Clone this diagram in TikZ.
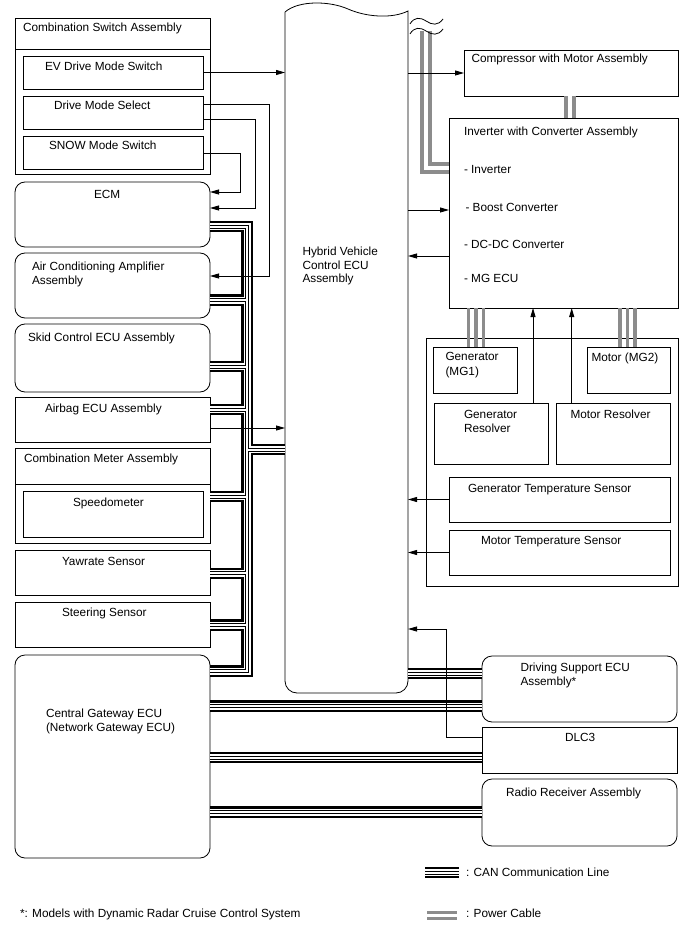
\documentclass[tikz,border=0pt]{standalone}
\usepackage{fontspec}
\setmainfont{Liberation Sans}
\usetikzlibrary{arrows.meta,calc}
\definecolor{pgray}{RGB}{140,140,140}
\begin{document}
\begin{tikzpicture}[x=1pt,y=-1pt,
  every node/.style={font=\fontsize{11.8pt}{14pt}\selectfont},
  box/.style={draw, line width=0.8pt, inner sep=0pt, outer sep=0pt, anchor=north west},
  rbox/.style={box, rounded corners=10pt},
  lbl/.style={anchor=base west, inner sep=0pt, outer sep=0pt},
  ln/.style={line width=0.8pt},
  arr/.style={line width=0.8pt, -{Triangle[length=9pt,width=5pt]}},
  can/.style={draw=black, line width=11.5pt,
    postaction={draw=white, line width=7pt,
      postaction={draw=black, line width=4pt,
        postaction={draw=white, line width=2pt}}}},
  pwr/.style={draw=pgray, line width=11.5pt, postaction={draw=white, line width=4.5pt}},
  pwrone/.style={draw=pgray, line width=3.3pt}]
\useasboundingbox (0,0) rectangle (688,949);

% ---------- left boxes ----------
\node[box, minimum width=195pt, minimum height=156pt] (csw) at (15,18) {};
\node[box, minimum width=180pt, minimum height=33pt] (ev) at (23,56) {};
\node[box, minimum width=180pt, minimum height=33pt] (dms) at (23,96) {};
\node[box, minimum width=180pt, minimum height=33pt] (snow) at (23,136) {};
\node[rbox, minimum width=195pt, minimum height=65pt] (ecm) at (15,182) {};
\node[rbox, minimum width=195pt, minimum height=65pt] (ac) at (15,253) {};
\node[rbox, minimum width=195pt, minimum height=68pt] (skid) at (15,324) {};
\node[box, minimum width=195pt, minimum height=45pt] (airbag) at (15,397) {};
\node[box, minimum width=195pt, minimum height=95pt] (meter) at (15,448) {};
\node[box, minimum width=180pt, minimum height=46pt] (speedo) at (23,491) {};
\node[box, minimum width=195pt, minimum height=45pt] (yaw) at (15,550) {};
\node[box, minimum width=195pt, minimum height=45pt] (steer) at (15,602) {};
\node[rbox, minimum width=195pt, minimum height=203pt] (gw) at (15,655) {};
\draw[ln] ([yshift=-31pt]csw.north west) -- ([yshift=-31pt]csw.north east);
\draw[ln] ([yshift=-36pt]meter.north west) -- ([yshift=-36pt]meter.north east);

% ---------- HV ECU ----------
\node[inner sep=0pt, outer sep=0pt, minimum width=123pt, minimum height=681pt, anchor=north west] (hv) at (285,12) {};
\draw[ln] (285,12) .. controls (299,0) and (330,1) .. (348,9) .. controls (366,17) and (392,19) .. (408,11)
  [rounded corners=12pt] -- (408,693) -- (285,693) -- (285,12);

% ---------- right boxes ----------
\node[box, minimum width=214pt, minimum height=46pt] (comp) at (464,50) {};
\node[box, minimum width=229pt, minimum height=190pt] (inv) at (449,118) {};
\node[box, minimum width=252pt, minimum height=248pt] (mg) at (426,338) {};
\node[box, minimum width=84pt, minimum height=46pt] (mg1) at (433,347) {};
\node[box, minimum width=83pt, minimum height=46pt] (mg2) at (587,347) {};
\node[box, minimum width=114pt, minimum height=61pt] (gres) at (434,403) {};
\node[box, minimum width=114pt, minimum height=61pt] (mres) at (556,403) {};
\node[box, minimum width=221pt, minimum height=45pt] (gtemp) at (449,477) {};
\node[box, minimum width=221pt, minimum height=45pt] (mtemp) at (449,530) {};
\node[rbox, minimum width=195pt, minimum height=66pt] (ds) at (482,656) {};
\node[box, minimum width=195pt, minimum height=46pt] (dlc) at (482,727) {};
\node[rbox, minimum width=195pt, minimum height=67pt] (radio) at (482,779) {};

% ---------- texts ----------
\node[lbl] (t1) at (23,32) {Combination Switch Assembly};
\node[lbl] (t2) at (45,70.5) {EV Drive Mode Switch};
\node[lbl] (t3) at (54,110) {Drive Mode Select};
\node[lbl] (t4) at (49,150) {SNOW Mode Switch};
\node[lbl] (t5) at (94,199) {ECM};
\node[lbl] (t6) at (32,270) {Air Conditioning Amplifier};
\node[lbl] (t6b) at (32,284) {Assembly};
\node[lbl] (t7) at (28,341.5) {Skid Control ECU Assembly};
\node[lbl] (t8) at (45,412.5) {Airbag ECU Assembly};
\node[lbl] (t9) at (24,462.5) {Combination Meter Assembly};
\node[lbl] (t10) at (73,506.5) {Speedometer};
\node[lbl] (t11) at (62,565.5) {Yawrate Sensor};
\node[lbl] (t12) at (62,616.5) {Steering Sensor};
\node[lbl] (t13) at (46,717.5) {Central Gateway ECU};
\node[lbl] (t13b) at (46,731) {(Network Gateway ECU)};
\node[lbl] (t14) at (302.5,255.5) {Hybrid Vehicle};
\node[lbl] (t14b) at (302.5,269.5) {Control ECU};
\node[lbl] (t14c) at (302.5,283) {Assembly};
\node[lbl] (t15) at (471.5,63) {Compressor with Motor Assembly};
\node[lbl] (t16) at (464,136) {Inverter with Converter Assembly};
\node[lbl] (t16a) at (464,174) {- Inverter};
\node[lbl] (t16b) at (465.5,211.5) {- Boost Converter};
\node[lbl] (t16c) at (464,249) {- DC-DC Converter};
\node[lbl] (t16d) at (464,283) {- MG ECU};
\node[lbl] (t17) at (445.5,360.5) {Generator};
\node[lbl] (t17b) at (445.5,375) {(MG1)};
\node[lbl] (t18) at (591.5,361) {Motor (MG2)};
\node[lbl] (t19) at (464,418) {Generator};
\node[lbl] (t19b) at (464,432) {Resolver};
\node[lbl] (t20) at (570.5,418) {Motor Resolver};
\node[lbl] (t21) at (468,492) {Generator Temperature Sensor};
\node[lbl] (t22) at (481,544) {Motor Temperature Sensor};
\node[lbl] (t23) at (520.5,671.5) {Driving Support ECU};
\node[lbl] (t23b) at (520.5,685) {Assembly*};
\node[lbl] (t24) at (565,741.5) {DLC3};
\node[lbl] (t25) at (506,796) {Radio Receiver Assembly};
\node[lbl] (t26) at (466,876) {: CAN Communication Line};
\node[lbl] (t27) at (466,917) {: Power Cable};
\node[lbl] (t28) at (20,917) {*: Models with Dynamic Radar Cruise Control System};

% ---------- CAN bus (left) ----------
\coordinate (bus) at (247,0);
\coordinate (yecm) at ([yshift=-44.7pt]ecm.north east);
\coordinate (yac) at ([yshift=-47pt]ac.north east);
\coordinate (yskid) at ([yshift=-42.7pt]skid.north east);
\coordinate (yair) at ([yshift=-12.5pt]airbag.north east);
\coordinate (ymet) at ([yshift=-48.7pt]meter.north east);
\coordinate (yyaw) at ([yshift=-23.3pt]yaw.north east);
\coordinate (yst) at ([yshift=-23pt]steer.north east);
\coordinate (ygw) at ([yshift=-16pt]gw.north east);
\coordinate (yhv) at (bus |- 0,449.5);
\draw[can] (yecm) -- (bus |- yecm) -- (bus |- ygw) -- (ygw)
  (yac) -- (bus |- yac)
  (yskid) -- (bus |- yskid)
  (yair) -- (bus |- yair)
  (ymet) -- (bus |- ymet)
  (yyaw) -- (bus |- yyaw)
  (yst) -- (bus |- yst)
  (yhv) -- (yhv -| hv.west);

% ---------- CAN (right) ----------
\coordinate (yds1) at ([yshift=-17.5pt]ds.north west);
\coordinate (yds2) at ([yshift=-50pt]ds.north west);
\coordinate (ydlc) at ([yshift=-30.5pt]dlc.north west);
\coordinate (yrad) at ([yshift=-33pt]radio.north west);
\draw[can] (yds1 -| hv.east) -- (yds1);
\draw[can] (yds2 -| gw.east) -- (yds2);
\draw[can] (ydlc -| gw.east) -- (ydlc);
\draw[can] (yrad -| gw.east) -- (yrad);

% ---------- power cables ----------
\coordinate (pwk) at (426,168);
\draw[pwr] (426,31) -- (pwk) -- (pwk -| inv.west);
\draw[pwr] ([xshift=-1pt]comp.south) -- ([xshift=-1pt]comp.south |- inv.north);
\coordinate (a1) at (468.5,0);
\coordinate (a2) at (476,0);
\coordinate (a3) at (483.5,0);
\coordinate (b1) at (620,0);
\coordinate (b2) at (627.5,0);
\coordinate (b3) at (635,0);
\foreach \c in {a1,a2,a3} \draw[pwrone] (\c |- mg1.north) -- (\c |- inv.south);
\foreach \c in {b1,b2,b3} \draw[pwrone] (\c |- mg2.north) -- (\c |- inv.south);
\draw[ln] (410,24) .. controls (414,17) and (420,17) .. (426,21) .. controls (432,25) and (438,26) .. (443,19);
\draw[ln] (410,34) .. controls (414,27) and (420,27) .. (426,31) .. controls (432,35) and (438,36) .. (443,29);

% ---------- signal arrows ----------
\draw[arr] (ev.east) -- (ev.east -| hv.west);
\draw[arr] (comp.west -| hv.east) -- (comp.west);
\coordinate (k1) at (269,0);
\coordinate (k2) at (255,0);
\coordinate (k3) at (240,0);
\coordinate (acin) at ([yshift=-23pt]ac.north east);
\coordinate (ecmin1) at ([yshift=-10pt]ecm.north east);
\coordinate (ecmin2) at ([yshift=-26pt]ecm.north east);
\draw[arr] ([yshift=-8pt]dms.north east) -| (k1 |- acin) -- (acin);
\draw[arr] ([yshift=-23pt]dms.north east) -| (k2 |- ecmin2) -- (ecmin2);
\draw[arr] ([yshift=-17pt]snow.north east) -| (k3 |- ecmin1) -- (ecmin1);
\draw[arr] ([yshift=-31pt]airbag.north east) -- ([yshift=-31pt]airbag.north east -| hv.west);
\coordinate (bst) at ([yshift=-92pt]inv.north west);
\coordinate (dcc) at ([yshift=-138pt]inv.north west);
\draw[arr] (bst -| hv.east) -- (bst);
\draw[arr] (dcc) -- (dcc -| hv.east);
\draw[arr] ([xshift=-15pt]gres.north east) -- ([xshift=-15pt]gres.north east |- inv.south);
\draw[arr] ([xshift=15.7pt]mres.north west) -- ([xshift=15.7pt]mres.north west |- inv.south);
\draw[arr] (gtemp.west) -- (gtemp.west -| hv.east);
\draw[arr] (mtemp.west) -- (mtemp.west -| hv.east);
\coordinate (kd) at (446,629);
\draw[arr] ([yshift=-10pt]dlc.north west) -| (kd) -- (kd -| hv.east);

% ---------- legend ----------
\draw[can] (425,872.5) -- (459,872.5);
\draw[pwrone] (427,912.3) -- (457,912.3);
\draw[pwrone] (427,918.3) -- (457,918.3);
\end{tikzpicture}
\end{document}
